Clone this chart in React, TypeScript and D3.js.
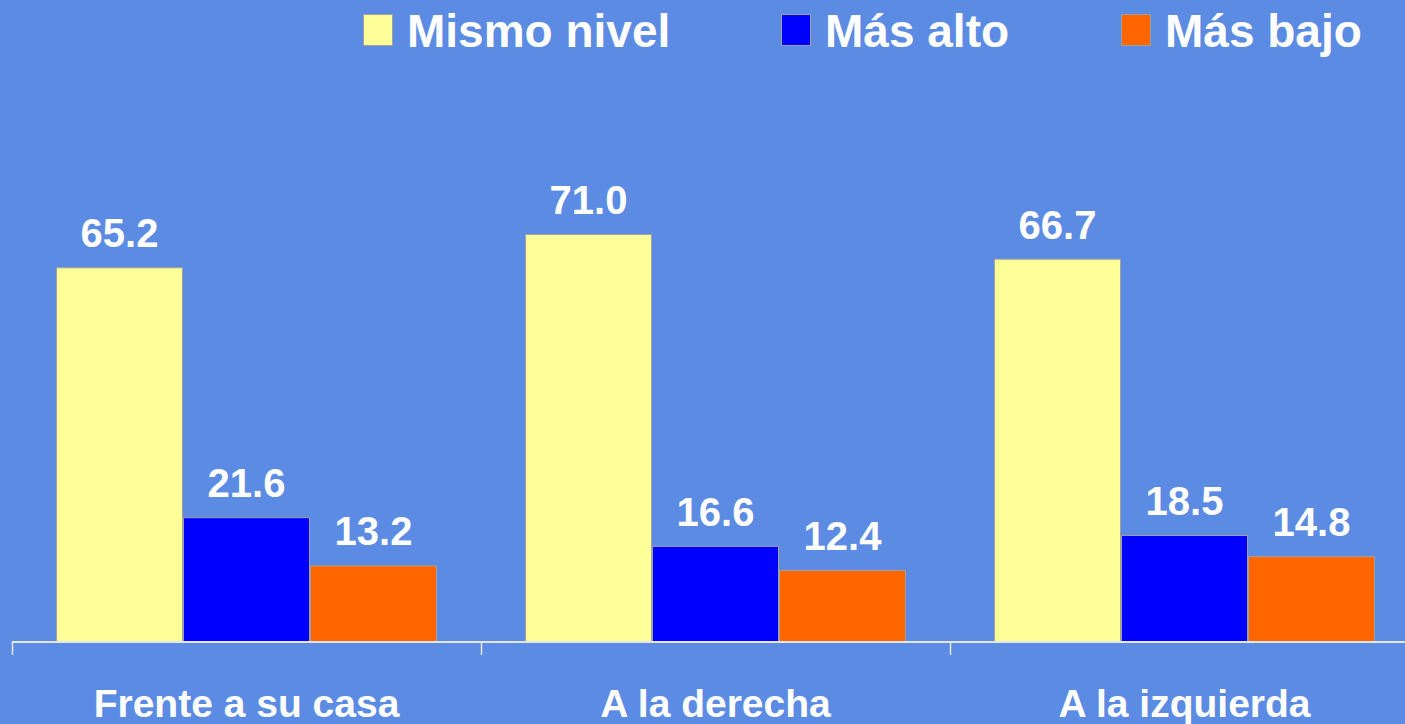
import React from "react";
import * as d3 from "d3";

const categories = ["Frente a su casa", "A la derecha", "A la izquierda"];
const seriesNames = ["Mismo nivel", "Más alto", "Más bajo"];
const mismoNivel = [65.2, 71.0, 66.7];
const masAlto = [21.6, 16.6, 18.5];
const masBajo = [13.2, 12.4, 14.8];
const seriesColors = ["#FFFF99", "#0000FF", "#FF6600"];

const W = 1405;
const H = 724;
const BG = "#5B8BE3";
const FONT = "'Liberation Sans', Arial, sans-serif";

export default function App() {
  const seriesValues = [mismoNivel, masAlto, masBajo];
  const baseY = 641;
  const x0 = d3.scaleBand<string>().domain(categories).range([12, 12 + 3 * 469]).padding(0);
  const x1 = d3.scaleBand<string>().domain(seriesNames).range([44, 425]).padding(0);
  const y = d3.scaleLinear().domain([0, 100]).range([baseY, baseY - 573.2]);

  const legendItems = [
    { sq: 363, tx: 407 },
    { sq: 781, tx: 825 },
    { sq: 1121, tx: 1165 },
  ];

  return (
    <svg
      width={W}
      height={H}
      style={{ position: "absolute", left: 0, top: 0, display: "block" }}
      fontFamily={FONT}
    >
      <rect x={0} y={0} width={W} height={H} fill={BG} />
      {/* legend */}
      {seriesNames.map((name, i) => (
        <g key={name}>
          <rect
            x={legendItems[i].sq + 0.5}
            y={14.5}
            width={29}
            height={31}
            fill={seriesColors[i]}
            stroke="#A0A0A0"
            strokeWidth={1}
          />
          <text
            x={legendItems[i].tx}
            y={47}
            fill="#FFFFFF"
            fontSize={46}
            fontWeight="bold"
          >
            {name}
          </text>
        </g>
      ))}
      {/* bars */}
      {categories.map((cat, ci) => (
        <g key={cat} transform={`translate(${x0(cat)},0)`}>
          {seriesNames.map((s, si) => {
            const v = seriesValues[si][ci];
            const bx = x1(s) as number;
            const bw = x1.bandwidth();
            return (
              <g key={s}>
                <rect
                  x={bx + 0.5}
                  y={y(v) + 0.5}
                  width={bw - 1}
                  height={baseY - y(v)}
                  fill={seriesColors[si]}
                  stroke="#A0A0A0"
                  strokeWidth={1}
                />
                <text
                  x={bx + bw / 2}
                  y={y(v) - 20}
                  textAnchor="middle"
                  fill="#FFFFFF"
                  fontSize={40}
                  fontWeight="bold"
                >
                  {v.toFixed(1)}
                </text>
              </g>
            );
          })}
          <text
            x={x0.bandwidth() / 2}
            y={717}
            textAnchor="middle"
            fill="#FFFFFF"
            fontSize={39}
            fontWeight="bold"
          >
            {cat}
          </text>
        </g>
      ))}
      {/* axis */}
      <line x1={12} x2={W} y1={baseY + 1} y2={baseY + 1} stroke="#E6E6E6" strokeWidth={2} />
      {categories.map((cat) => (
        <line
          key={cat}
          x1={(x0(cat) as number) + 0.5}
          x2={(x0(cat) as number) + 0.5}
          y1={baseY}
          y2={655}
          stroke="#E6E6E6"
          strokeWidth={1.5}
        />
      ))}
    </svg>
  );
}
